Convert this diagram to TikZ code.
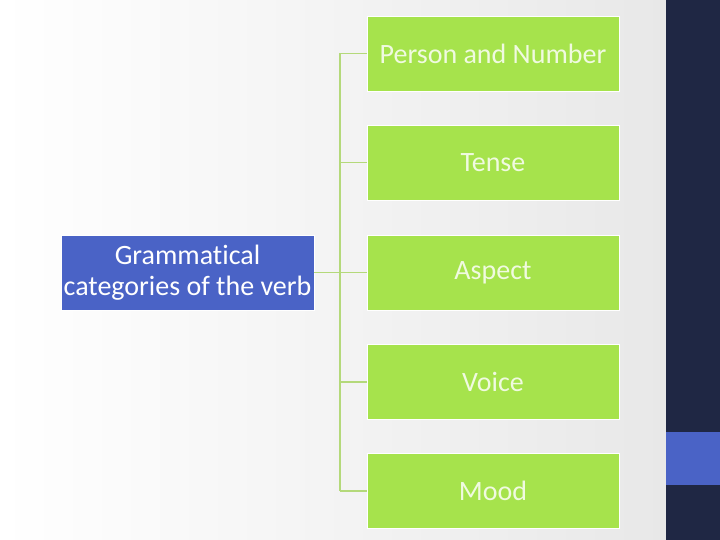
\documentclass[tikz,border=0pt]{standalone}
\usepackage{fontspec}
\setmainfont{Carlito}[Ligatures=NoCommon]
\definecolor{boxgreen}{HTML}{A6E34C}
\definecolor{boxblue}{HTML}{4A63C6}
\definecolor{navy}{HTML}{1F2744}
\definecolor{linegreen}{HTML}{B4D97A}
\definecolor{paletext}{HTML}{F0FAE0}
\begin{document}
\begin{tikzpicture}[x=1pt,y=-1pt,
  catbox/.style={fill=boxgreen,draw=white,line width=0.8pt,minimum width=252pt,minimum height=75pt,inner sep=0pt,text=paletext,font=\fontsize{28}{31}\selectfont},
  mainbox/.style={fill=boxblue,draw=white,line width=0.8pt,minimum width=253pt,minimum height=75pt,inner sep=0pt,text=white,align=center,font=\fontsize{28}{31}\selectfont},
  conn/.style={draw=linegreen,line width=1.2pt}]
\useasboundingbox (0,0) rectangle (720,540);
\shade[left color=white,right color=black!9] (0,0) rectangle (666,540);
\fill[navy] (666,0) rectangle (720,540);
\fill[boxblue] (666,432) rectangle (720,485);
\node[mainbox] (main) at (187.5,272.5) {Grammatical\\categories of the verb};
\node[catbox] (b1) at (493,53.5) {Person and Number};
\node[catbox] (b2) at (493,162.5) {Tense};
\node[catbox] (b3) at (493,272.5) {Aspect};
\node[catbox] (b4) at (493,382) {Voice};
\node[catbox] (b5) at (493,491) {Mood};
\coordinate (top) at (340,53.5);
\coordinate (bot) at (340,491);
\draw[conn] (main.east) -- (340,272.5);
\draw[conn] (top) -- (bot);
\foreach \b in {b1,b2,b3,b4,b5}{\draw[conn] (\b.west) -- (\b.west -| top);}
\end{tikzpicture}
\end{document}
